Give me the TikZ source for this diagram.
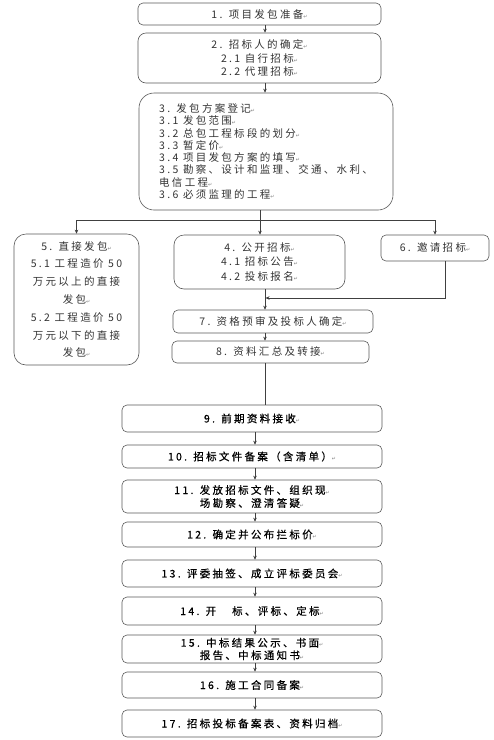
\documentclass[tikz,border=0pt]{standalone}
\usepackage{fontspec}
\usepackage{xcolor}
\usetikzlibrary{arrows.meta}
\newfontfamily\cjk[LetterSpace=22]{Noto Sans CJK SC}
\newfontfamily\cjkdark[LetterSpace=22, FakeBold=0.5]{Noto Sans CJK SC}
\newfontfamily\dejavu{DejaVu Sans}
\newcommand{\retmark}{{\dejavu\fontsize{5}{5}\selectfont\color{gray}↵}}

\begin{document}
\begin{tikzpicture}[x=1pt, y=-1pt,
	box/.style = {draw=black!65, line width=0.6pt, rounded corners=5pt, inner sep=0pt, align=center, text=black!80, font=\cjk\fontsize{10.5}{13.5}\selectfont},
	darkbox/.style = {box, minimum width=260pt, text=black, font=\cjkdark\fontsize{10.5}{13}\selectfont},
	link/.style = {draw=black!75, line width=0.6pt},
	arr/.style = {link, -{Stealth[length=4pt, width=3.5pt]}}]
	\useasboundingbox (0,0) rectangle (494,740);
	% top part
	\node[box, minimum width=243pt, minimum height=22pt] (1) at (259.5,14) {1. 项目发包准备\retmark};
	\node[box, minimum width=243pt, minimum height=50pt, rounded corners=8pt] (2) at (259.5,58) {2. 招标人的确定\retmark\\2.1 自行招标\retmark\\2.2 代理招标\retmark};
	\node[box, minimum width=254pt, minimum height=117pt, rounded corners=15pt, align=left, font=\cjk\fontsize{10.5}{12.3}\selectfont] (3) at (266,151.5) {3. 发包方案登记\retmark\\3.1 发包范围\retmark\\3.2 总包工程标段的划分\retmark\\3.3 暂定价\retmark\\3.4 项目发包方案的填写\retmark\\3.5 勘察、设计和监理、交通、水利、\\电信工程\retmark\\3.6 必须监理的工程\retmark};
	% three ways
	\node[box, minimum width=125pt, minimum height=131pt, rounded corners=12pt, font=\cjk\fontsize{10.5}{17.8}\selectfont] (5) at (76.5,299.5) {5. 直接发包\retmark\\5.1 工程造价 50\\万元以上的直接\\发包\retmark\\5.2 工程造价 50\\万元以下的直接\\发包\retmark};
	\node[box, minimum width=171pt, minimum height=54pt, rounded corners=10pt, font=\cjk\fontsize{10.5}{14.5}\selectfont] (4) at (259.5,262) {4. 公开招标\retmark\\4.1 招标公告\retmark\\4.2 投标报名\retmark};
	\node[box, minimum width=108pt, minimum height=26pt] (6) at (435,248) {6. 邀请招标\retmark};
	\node[box, minimum width=200pt, minimum height=23pt] (7) at (273,321.5) {7. 资格预审及投标人确定\retmark};
	\node[box, minimum width=197pt, minimum height=22pt] (8) at (270.5,352) {8. 资料汇总及转接\retmark};
	% lower chain
	\node[darkbox, minimum height=27pt] (9) at (252,418.5) {9. 前期资料接收\retmark};
	\node[darkbox, minimum height=23pt] (10) at (252,456.5) {10. 招标文件备案（含清单）\retmark};
	\node[darkbox, minimum height=33pt] (11) at (252,496.5) {11. 发放招标文件、组织现\retmark\\场勘察、澄清答疑\retmark};
	\node[darkbox, minimum height=25pt] (12) at (252,534.5) {12. 确定并公布拦标价\retmark};
	\node[darkbox, minimum height=27pt] (13) at (252,573.5) {13. 评委抽签、成立评标委员会\retmark};
	\node[darkbox, minimum height=28pt] (14) at (252,611) {14. 开\hspace{16pt}标、评标、定标\retmark};
	\node[darkbox, minimum height=28pt, font=\cjkdark\fontsize{10.5}{12.5}\selectfont] (15) at (252,649) {15. 中标结果公示、书面\retmark\\报告、中标通知书\retmark};
	\node[darkbox, minimum height=26pt] (16) at (252,685) {16. 施工合同备案\retmark};
	\node[darkbox, minimum height=27pt] (17) at (252,723.5) {17. 招标投标备案表、资料归档\retmark};
	% connectors
	\coordinate (spine) at (265,0);
	\draw[arr] (1.south -| spine) -- (2.north -| spine);
	\draw[arr] (2.south -| spine) -- (3.north -| spine);
	\coordinate (fork) at (260,220);
	\draw[link] (3.south -| fork) -- (fork);
	\draw[arr] (fork) -| (5);
	\draw[arr] (fork) -| (6);
	\draw[arr] (fork) -- (4.north -| fork);
	\coordinate (join) at (265,298);
	\coordinate (back) at (445,298);
	\draw[arr] (4.south -| join) -- (7.north -| join);
	\draw[arr, shorten >=0.5pt] (6.south -| back) -- (back) -- (join);
	\draw[arr] (7.south -| join) -- (8.north -| join);
	\draw[link] (8.south -| join) -- (9.north -| join);
	\coordinate (lower) at (255,0);
	\foreach \a/\b in {9/10,10/11,11/12,12/13,13/14,14/15,15/16,16/17}
		\draw[arr] (\a.south -| lower) -- (\b.north -| lower);
\end{tikzpicture}
\end{document}
